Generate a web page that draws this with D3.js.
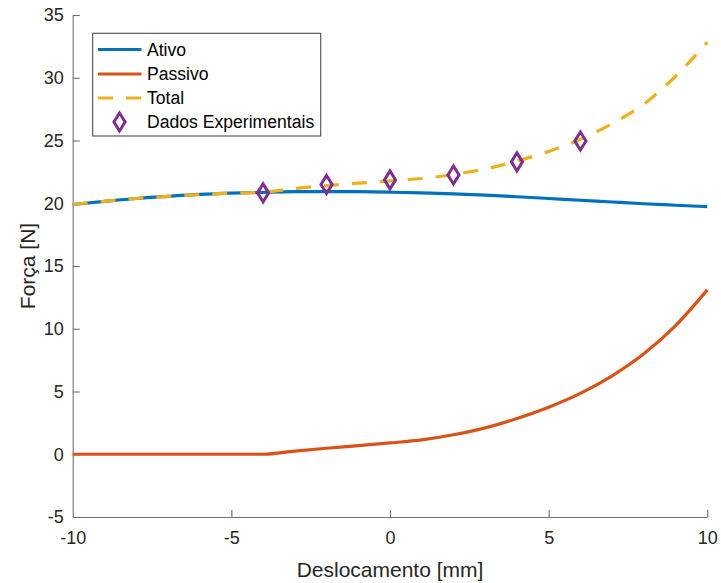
<!DOCTYPE html>
<html>
<head>
<meta charset="utf-8">
<script src="https://cdn.jsdelivr.net/npm/d3@7"></script>
<style>
  html, body { margin: 0; padding: 0; background: #fff; }
  svg { display: block; font-family: "Liberation Sans", Arial, Helvetica, sans-serif; }
</style>
</head>
<body>
<svg id="chart" width="721" height="583"></svg>
<script>
// ---- Data ----
const xs = [-10, -9, -8, -7, -6, -5, -4, -3, -2, -1, 0, 1, 2, 3, 4, 5, 6, 7, 8, 9, 10];
const ativo = [19.9, 20.15, 20.38, 20.55, 20.7, 20.8, 20.87, 20.92, 20.93, 20.92, 20.88, 20.82, 20.74, 20.64, 20.52, 20.38, 20.24, 20.1, 19.96, 19.84, 19.73];
const passivo = [0, 0, 0, 0, 0, 0, 0, 0.25, 0.48, 0.68, 0.9, 1.15, 1.55, 2.1, 2.85, 3.75, 4.85, 6.25, 8.0, 10.25, 13.1];
const total = [19.9, 20.15, 20.38, 20.55, 20.7, 20.8, 20.87, 21.17, 21.41, 21.6, 21.78, 21.97, 22.29, 22.74, 23.37, 24.13, 25.09, 26.35, 27.9, 30.12, 32.83];
const expX = [-4, -2, 0, 2, 4, 6];
const expY = [20.83, 21.5, 21.86, 22.25, 23.3, 24.96];
const xTicks = [-10, -5, 0, 5, 10];
const yTicks = [-5, 0, 5, 10, 15, 20, 25, 30, 35];
const legendLabels = ["Ativo", "Passivo", "Total", "Dados Experimentais"];
const xLabel = "Deslocamento [mm]";
const yLabel = "Força [N]";

// ---- Layout ----
const colors = { ativo: "#0072BD", passivo: "#D95319", total: "#EDB120", exp: "#7E2F8E" };
const textColor = "#262626";
const axisColor = "#707070";
const svg = d3.select("#chart");

const x = d3.scaleLinear().domain([-10, 10]).range([72.7, 707.3]);
const y = d3.scaleLinear().domain([-5, 35]).range([517, 15]);
const fmt = d => String(d);

// Axes
const gx = svg.append("g").attr("transform", `translate(0,${y(-5)})`)
  .call(d3.axisBottom(x).tickValues(xTicks).tickSizeInner(-7).tickSizeOuter(0).tickPadding(14).tickFormat(fmt));
const gy = svg.append("g").attr("transform", `translate(${x(-10)},0)`)
  .call(d3.axisLeft(y).tickValues(yTicks).tickSizeInner(-7).tickSizeOuter(0).tickPadding(9).tickFormat(fmt));

[gx, gy].forEach(g => {
  g.select(".domain").attr("stroke", axisColor).attr("stroke-width", 1.1);
  g.selectAll(".tick line").attr("stroke", axisColor).attr("stroke-width", 1.1);
  g.selectAll(".tick text").attr("fill", textColor).style("font-size", "18px")
    .style("font-family", '"Liberation Sans", Arial, sans-serif');
});
gx.selectAll(".tick text").attr("dy", "0.72em");
// Hide corner ticks overlapping the other axis
gx.selectAll(".tick").filter(d => d === -10).select("line").remove();
gy.selectAll(".tick").filter(d => d === -5).select("line").remove();

// Axis labels
svg.append("text")
  .attr("x", (x(-10) + x(10)) / 2).attr("y", 577)
  .attr("text-anchor", "middle").attr("fill", textColor)
  .style("font-size", "21px").text(xLabel);
svg.append("text")
  .attr("transform", `translate(35,${(y(-5) + y(35)) / 2}) rotate(-90)`)
  .attr("text-anchor", "middle").attr("fill", textColor)
  .style("font-size", "21px").text(yLabel);

// Lines
const line = d3.line().x(d => x(d[0])).y(d => y(d[1])).curve(d3.curveMonotoneX);
const series = [
  { vals: ativo, color: colors.ativo, dash: null },
  { vals: passivo, color: colors.passivo, dash: null },
  { vals: total, color: colors.total, dash: "15,13" }
];
series.forEach(s => {
  svg.append("path")
    .datum(xs.map((xv, i) => [xv, s.vals[i]]))
    .attr("d", line)
    .attr("fill", "none")
    .attr("stroke", s.color)
    .attr("stroke-width", 3.2)
    .attr("stroke-dasharray", s.dash);
});

// Diamonds
const diamond = (cx, cy) => `M${cx},${cy - 9} L${cx + 5.6},${cy} L${cx},${cy + 9} L${cx - 5.6},${cy} Z`;
svg.append("g").selectAll("path")
  .data(expX.map((xv, i) => [xv, expY[i]]))
  .join("path")
  .attr("d", d => diamond(x(d[0]), y(d[1])))
  .attr("fill", "none")
  .attr("stroke", colors.exp)
  .attr("stroke-width", 3);

// Legend
const lg = svg.append("g");
lg.append("rect").attr("x", 92.7).attr("y", 33.3).attr("width", 228).attr("height", 102.7)
  .attr("fill", "#fff").attr("stroke", "#4d4d4d").attr("stroke-width", 1.1);
const rowsY = [49.5, 74, 98, 122];
const legendStyles = [
  { color: colors.ativo, dash: null },
  { color: colors.passivo, dash: null },
  { color: colors.total, dash: "15,13" }
];
legendStyles.forEach((s, i) => {
  lg.append("line").attr("x1", 98).attr("x2", 141.5).attr("y1", rowsY[i]).attr("y2", rowsY[i])
    .attr("stroke", s.color).attr("stroke-width", 3.2).attr("stroke-dasharray", s.dash);
});
lg.append("path").attr("d", diamond(119.5, rowsY[3])).attr("fill", "none")
  .attr("stroke", colors.exp).attr("stroke-width", 3);
legendLabels.forEach((t, i) => {
  lg.append("text").attr("x", 147).attr("y", rowsY[i] + 6.3)
    .attr("fill", "#000").style("font-size", "17.6px").text(t);
});
</script>
</body>
</html>
